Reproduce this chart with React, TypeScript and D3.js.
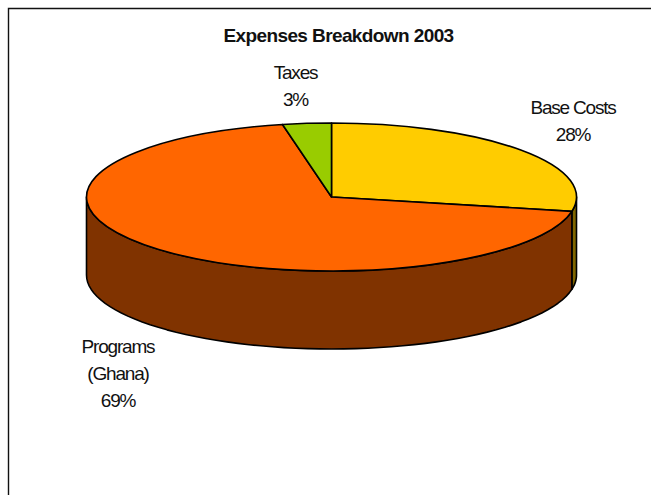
import React from "react";
import * as d3 from "d3";

const categories = ["Base Costs", "Programs (Ghana)", "Taxes"];
const values = [28.1, 68.7, 3.2];
const topColors = ["#FFCC00", "#FF6600", "#99CC00"];
const sideColors = ["#806600", "#803300", "#4D6600"];
const labelLines = [["Base Costs", "28%"], ["Programs", "(Ghana)", "69%"], ["Taxes", "3%"]];
const labelCenters: [number, number][] = [[573, 114], [118, 353], [295.5, 79]];

const W = 651, H = 495;
const cx = 331.5, cy = 197, rx = 245, ry = 74, depth = 78;
const font = "'Liberation Sans', Arial, sans-serif";

const pie = d3.pie<number>().sort(null).startAngle(0).endAngle(2 * Math.PI);
const arcs = pie(values);
const unitArc = d3.arc<d3.PieArcDatum<number>>().innerRadius(0).outerRadius(1);

const px = (a: number) => cx + rx * Math.sin(a);
const py = (a: number) => cy - ry * Math.cos(a);

// Front wall between two angles, clipped to the visible lower half of the ellipse.
function wall(a0: number, a1: number): string | null {
  const s = Math.max(a0, Math.PI / 2), e = Math.min(a1, 1.5 * Math.PI);
  if (e <= s) return null;
  const p = d3.path();
  const n = 60;
  const samples = d3.range(n + 1).map((i) => s + ((e - s) * i) / n);
  samples.forEach((a, i) => (i === 0 ? p.moveTo(px(a), py(a)) : p.lineTo(px(a), py(a))));
  samples.slice().reverse().forEach((a) => p.lineTo(px(a), py(a) + depth));
  p.closePath();
  return p.toString();
}

export default function App() {
  return (
    <svg width={W} height={H} viewBox={`0 0 ${W} ${H}`} style={{ position: "absolute", left: 0, top: 0, background: "#fff" }}>
      <path d={`M8.5 ${H} V8.5 H${W}`} fill="none" stroke="#111" strokeWidth={1.4} />
      <text x={338.5} y={41.5} textAnchor="middle" fontFamily={font} fontWeight="bold" fontSize={19} letterSpacing={-0.6} fill="#111">
        Expenses Breakdown 2003
      </text>
      {arcs.map((d, i) => {
        const w = wall(d.startAngle, d.endAngle);
        return w ? <path key={i} d={w} fill={sideColors[i]} stroke="#000" strokeWidth={1.6} strokeLinejoin="round" /> : null;
      })}
      {arcs.map((d, i) => (
        <path
          key={i}
          d={unitArc(d) ?? ""}
          transform={`translate(${cx},${cy}) scale(${rx},${ry})`}
          fill={topColors[i]}
          stroke="#000"
          strokeWidth={1.6}
          strokeLinejoin="round"
          vectorEffect="non-scaling-stroke"
        />
      ))}
      {labelLines.map((lines, i) => (
        <text key={categories[i]} textAnchor="middle" fontFamily={font} fontSize={19} letterSpacing={-1.2} fill="#111">
          {lines.map((t, j) => (
            <tspan key={j} x={labelCenters[i][0]} y={labelCenters[i][1] + j * 27}>{t}</tspan>
          ))}
        </text>
      ))}
    </svg>
  );
}
